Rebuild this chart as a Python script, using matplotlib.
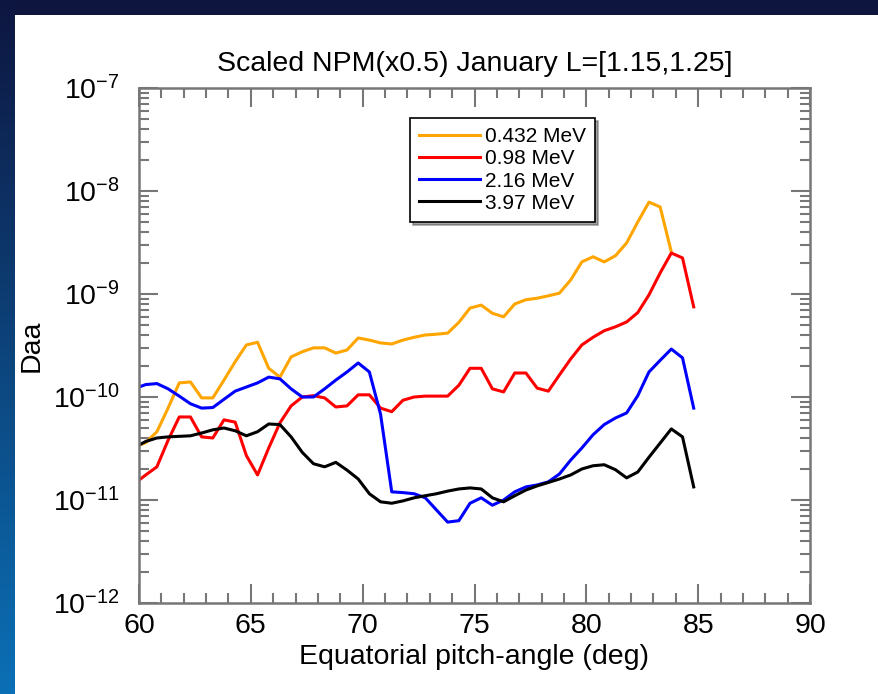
# Scaled NPM diffusion coefficient vs equatorial pitch-angle
import numpy as np
import matplotlib
matplotlib.use('Agg')
import matplotlib.pyplot as plt
from matplotlib.colors import to_rgb
from matplotlib.patches import Rectangle
from matplotlib.ticker import MultipleLocator, FixedLocator, NullFormatter

plt.rcParams['font.family'] = ['Liberation Sans', 'DejaVu Sans']
plt.rcParams['mathtext.fontset'] = 'custom'
plt.rcParams['mathtext.rm'] = 'Liberation Sans'
plt.rcParams['mathtext.it'] = 'Liberation Sans'

# data
pitch = [60.0, 60.3, 60.8, 61.3, 61.8, 62.3, 62.8, 63.3, 63.8, 64.3, 64.8, 65.3, 65.8,
         66.3, 66.8, 67.3, 67.8, 68.3, 68.8, 69.3, 69.8, 70.3, 70.8, 71.3, 71.8, 72.3,
         72.8, 73.3, 73.8, 74.3, 74.8, 75.3, 75.8, 76.3, 76.8, 77.3, 77.8, 78.3, 78.8,
         79.3, 79.8, 80.3, 80.8, 81.3, 81.8, 82.3, 82.8, 83.3, 83.8, 84.3, 84.8]

daa_0432 = [3.4e-11, 3.6e-11, 4.6e-11, 7.8e-11, 1.37e-10, 1.4e-10, 9.8e-11, 9.8e-11, 1.46e-10,
            2.2e-10, 3.2e-10, 3.4e-10, 1.9e-10, 1.56e-10, 2.45e-10, 2.75e-10, 3.0e-10, 3.0e-10,
            2.67e-10, 2.86e-10, 3.74e-10, 3.57e-10, 3.35e-10, 3.27e-10, 3.57e-10, 3.8e-10,
            4.0e-10, 4.07e-10, 4.17e-10, 5.3e-10, 7.3e-10, 7.8e-10, 6.5e-10, 6.0e-10, 8.0e-10,
            8.8e-10, 9.1e-10, 9.6e-10, 1.02e-9, 1.37e-9, 2.05e-9, 2.3e-9, 2.05e-9, 2.35e-9,
            3.13e-9, 5.0e-9, 7.8e-9, 7.0e-9, 2.56e-9]

daa_098 = [1.56e-11, 1.75e-11, 2.1e-11, 3.8e-11, 6.4e-11, 6.4e-11, 4.1e-11, 4.0e-11, 6.0e-11,
           5.7e-11, 2.7e-11, 1.75e-11, 3.2e-11, 5.6e-11, 8.2e-11, 1.0e-10, 1.03e-10, 9.8e-11,
           8.0e-11, 8.2e-11, 1.05e-10, 1.05e-10, 7.8e-11, 7.2e-11, 9.3e-11, 1.0e-10, 1.02e-10,
           1.02e-10, 1.02e-10, 1.3e-10, 1.9e-10, 1.9e-10, 1.2e-10, 1.12e-10, 1.71e-10, 1.71e-10,
           1.22e-10, 1.14e-10, 1.64e-10, 2.34e-10, 3.2e-10, 3.8e-10, 4.4e-10, 4.8e-10, 5.35e-10,
           6.6e-10, 9.8e-10, 1.6e-9, 2.5e-9, 2.24e-9, 7.5e-10]

daa_216 = [1.25e-10, 1.32e-10, 1.35e-10, 1.2e-10, 1.02e-10, 8.6e-11, 7.8e-11, 7.9e-11, 9.5e-11,
           1.14e-10, 1.25e-10, 1.37e-10, 1.56e-10, 1.5e-10, 1.2e-10, 1.0e-10, 1.0e-10, 1.2e-10,
           1.46e-10, 1.75e-10, 2.14e-10, 1.75e-10, 6.8e-11, 1.2e-11, 1.18e-11, 1.15e-11, 1.05e-11,
           8.0e-12, 6.1e-12, 6.3e-12, 9.3e-12, 1.05e-11, 8.9e-12, 1.0e-11, 1.2e-11, 1.34e-11,
           1.4e-11, 1.5e-11, 1.79e-11, 2.44e-11, 3.2e-11, 4.3e-11, 5.4e-11, 6.25e-11, 7.0e-11,
           1.03e-10, 1.75e-10, 2.27e-10, 2.92e-10, 2.4e-10, 7.8e-11]

daa_397 = [3.42e-11, 3.7e-11, 4.0e-11, 4.1e-11, 4.15e-11, 4.2e-11, 4.47e-11, 4.8e-11, 5.0e-11,
           4.7e-11, 4.2e-11, 4.6e-11, 5.47e-11, 5.4e-11, 4.1e-11, 2.9e-11, 2.25e-11, 2.1e-11,
           2.32e-11, 1.95e-11, 1.6e-11, 1.15e-11, 9.6e-12, 9.3e-12, 9.8e-12, 1.05e-11, 1.1e-11,
           1.15e-11, 1.22e-11, 1.28e-11, 1.31e-11, 1.28e-11, 1.05e-11, 9.6e-12, 1.1e-11, 1.25e-11,
           1.37e-11, 1.48e-11, 1.6e-11, 1.75e-11, 2.0e-11, 2.15e-11, 2.2e-11, 1.97e-11, 1.64e-11,
           1.87e-11, 2.6e-11, 3.57e-11, 4.9e-11, 4.1e-11, 1.34e-11]

labels = ['0.432 MeV', '0.98 MeV', '2.16 MeV', '3.97 MeV']
colors = ['#ffa500', '#ff0000', '#0000ff', '#000000']
decades = [-12, -11, -10, -9, -8, -7]

fig = plt.figure(figsize=(8.79, 6.94), dpi=100, facecolor='#0e1640')

# left strip gradient (top navy -> bottom blue) + white panel
top_c = np.array(to_rgb('#0e1640'))
bot_c = np.array(to_rgb('#0b70b6'))
t = np.linspace(0, 1, 694).reshape(-1, 1, 1)
strip = (1 - t) * top_c + t * bot_c
strip = np.repeat(strip, 15, axis=1)
fig.figimage(strip, xo=0, yo=0, origin='upper', zorder=-20)
fig.patches.append(Rectangle((15/879, 0), 1 - 15/879, 1 - 15/694, transform=fig.transFigure,
                             facecolor='white', edgecolor='none', zorder=-10))

ax = fig.add_axes([139/879, 1 - 603/694, 671/879, 515/694])
ax.set_facecolor('white')
ax.set_zorder(5)

series = [daa_0432, daa_098, daa_216, daa_397]
for vals, lab, col in zip(series, labels, colors):
    ax.plot(pitch[:len(vals)], vals, color=col, lw=2.2, label=lab)

ax.set_yscale('log')
ax.set_xlim(60, 90)
ax.set_ylim(1e-12, 1e-7)
ax.xaxis.set_major_locator(MultipleLocator(5))
ax.xaxis.set_minor_locator(MultipleLocator(1))
ax.yaxis.set_major_locator(FixedLocator([10.0**d for d in decades]))
ax.set_yticklabels([r'$10^{%d}$' % d for d in decades])
minor = [m * 10.0**d for d in decades[:-1] for m in range(2, 10)]
ax.yaxis.set_minor_locator(FixedLocator(minor))
ax.yaxis.set_minor_formatter(NullFormatter())

for sp in ax.spines.values():
    sp.set_color('#777777')
    sp.set_linewidth(1.8)
ax.tick_params(which='both', direction='in', top=True, right=True, color='#777777', width=1.5)
ax.tick_params(which='major', length=14, labelsize=20.5, pad=7)
ax.tick_params(which='minor', length=7)
ax.tick_params(axis='y', which='major', pad=14)

ax.set_title('Scaled NPM(x0.5) January L=[1.15,1.25]', fontsize=20.5, pad=12)
ax.set_xlabel('Equatorial pitch-angle (deg)', fontsize=20.5, labelpad=4)
ax.set_ylabel('Daa', fontsize=20.5, labelpad=6)

leg = ax.legend(loc='upper left', bbox_to_anchor=((410 - 139)/671, (603 - 118)/515),
                fontsize=15, frameon=True, fancybox=False, shadow=True,
                handlelength=2.9, handletextpad=0.25, labelspacing=0.15,
                borderpad=0.45, borderaxespad=0)
leg.get_frame().set_edgecolor('black')
leg.get_frame().set_linewidth(1.2)

plt.savefig('out.png', dpi=100, facecolor=fig.get_facecolor())
plt.close()
